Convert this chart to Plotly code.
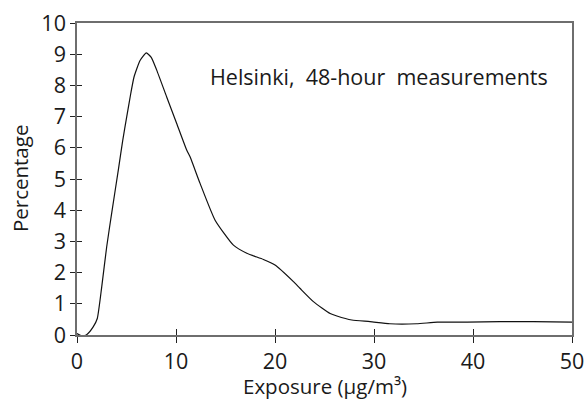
import plotly.graph_objects as go

exposure = [0, 0.5, 1.0, 1.65, 2.05, 2.5, 3.0, 3.5, 4.18, 4.62, 5.02, 5.43, 5.76, 6.37, 7.0, 7.5,
            8.05, 9.06, 10.07, 11.09, 11.42, 12.43, 13.95, 15.8, 17.15, 18.83, 20.0, 21.86, 22.54,
            23.88, 25.57, 26.25, 27.76, 29.6, 31.6, 34.3, 36.4, 39.4, 42.75, 46.1, 50]
percentage = [0.05, -0.03, 0.02, 0.27, 0.53, 1.55, 2.83, 3.9, 5.3, 6.24, 6.99, 7.74, 8.27, 8.8, 9.04, 8.9,
              8.49, 7.63, 6.78, 5.92, 5.71, 4.86, 3.68, 2.88, 2.62, 2.42, 2.24, 1.71, 1.49,
              1.07, 0.69, 0.61, 0.48, 0.43, 0.36, 0.36, 0.41, 0.41, 0.43, 0.43, 0.41]

x_ticks = [0, 10, 20, 30, 40, 50]
y_ticks = [0, 1, 2, 3, 4, 5, 6, 7, 8, 9, 10]

x_title = "Exposure (μg/m³)"
y_title = "Percentage"
label = "Helsinki,\u00a0 48-hour\u00a0 measurements"

FONT = "Open Sans"
AXIS_COLOR = "#6e6e6e"
TICK_COLOR = "#222222"
TEXT_COLOR = "#1a1a1a"

fig = go.Figure()
fig.add_trace(go.Scatter(x=exposure, y=percentage, mode="lines",
                         line=dict(color="#111111", width=1.2, shape="spline", smoothing=0.5),
                         hoverinfo="skip", showlegend=False))
# invisible trace to host the overlay axes (inside half of crossing ticks)
fig.add_trace(go.Scatter(x=[exposure[0]], y=[percentage[0]], xaxis="x2", yaxis="y2",
                         mode="markers", marker=dict(opacity=0), hoverinfo="skip", showlegend=False))

tick_font = dict(family=FONT, size=21.5, color=TEXT_COLOR)
title_font = dict(family=FONT, size=20.5, color=TEXT_COLOR)

fig.update_layout(
    width=586, height=399,
    margin=dict(l=77, r=14, t=23, b=64),
    paper_bgcolor="white", plot_bgcolor="white",
    font=dict(family=FONT, size=20, color=TEXT_COLOR),
    xaxis=dict(range=[0, 50], tickvals=x_ticks, ticks="outside", ticklen=6, tickwidth=1.3,
               tickcolor=TICK_COLOR, showline=True, linecolor=AXIS_COLOR, linewidth=1.5,
               mirror=True, showgrid=False, zeroline=False, tickfont=tick_font, automargin=False),
    yaxis=dict(range=[0, 10], tickvals=y_ticks, ticks="outside", ticklen=5, tickwidth=1.3,
               tickcolor=TICK_COLOR, showline=True, linecolor=AXIS_COLOR, linewidth=1.5,
               mirror=True, showgrid=False, zeroline=False, tickfont=tick_font, automargin=False),
    xaxis2=dict(range=[0, 50], tickvals=x_ticks, ticks="inside", ticklen=6, tickwidth=1.3,
                tickcolor=TICK_COLOR, showticklabels=False, showline=False, showgrid=False,
                zeroline=False, overlaying="x", anchor="y2", side="bottom", automargin=False),
    yaxis2=dict(range=[0, 10], tickvals=y_ticks, ticks="inside", ticklen=5, tickwidth=1.3,
                tickcolor=TICK_COLOR, showticklabels=False, showline=False, showgrid=False,
                zeroline=False, overlaying="y", anchor="x2", side="left", automargin=False),
    annotations=[
        dict(text=label, x=30.55, y=8.28, xref="x", yref="y", xanchor="center", yanchor="middle",
             showarrow=False, font=dict(family=FONT, size=21.5, color=TEXT_COLOR)),
        dict(text=x_title, x=0.5, y=-0.165, xref="paper", yref="paper", xanchor="center",
             yanchor="middle", showarrow=False, font=title_font),
        dict(text=y_title, x=-0.115, y=0.5, xref="paper", yref="paper", xanchor="center",
             yanchor="middle", textangle=-90, showarrow=False, font=title_font),
    ],
)

fig.write_html("out.html")
